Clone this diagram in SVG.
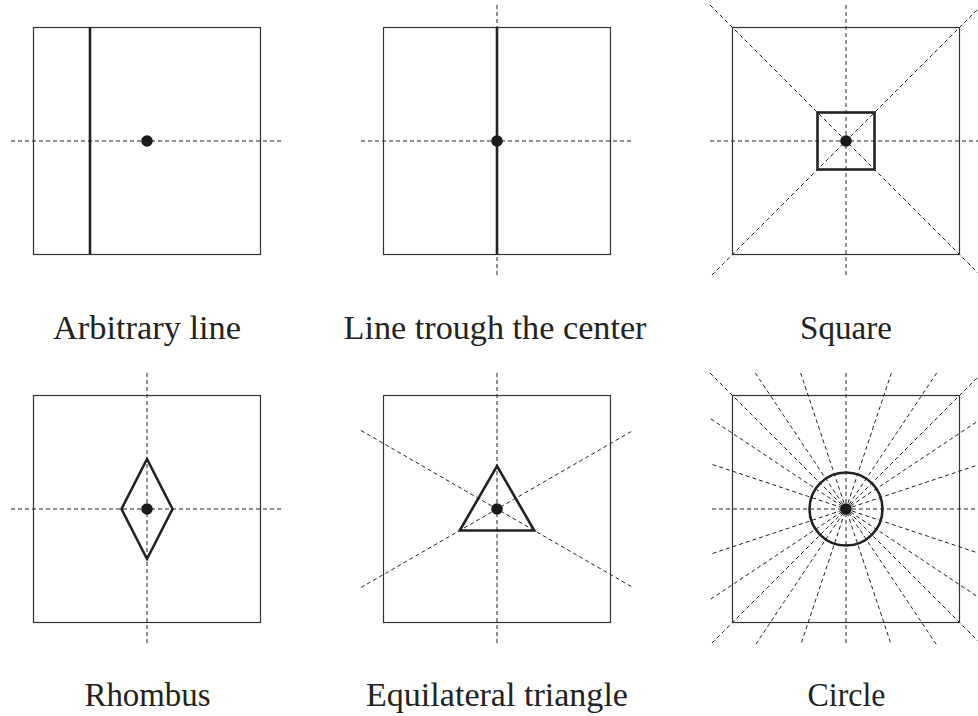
<svg xmlns="http://www.w3.org/2000/svg" width="978" height="716" viewBox="0 0 978 716">
<style>
.bg{fill:#fff}
.frame{fill:none;stroke:#333;stroke-width:1.2}
.dash{fill:none;stroke:#222;stroke-width:1;stroke-dasharray:4 3}
.thick{fill:none;stroke:#222;stroke-width:2.6;stroke-linejoin:miter}
.dot{fill:#1a1a1a}
.lbl{font-size:33px;fill:#222;text-anchor:middle}
</style>
<rect class="bg" x="0" y="0" width="978" height="716"/>
<g id="connectors">
  <line class="dash" x1="11" y1="141" x2="283" y2="141"/>
  <line class="dash" x1="361" y1="141" x2="633" y2="141"/>
  <line class="dash" x1="497" y1="5" x2="497" y2="277"/>
  <line class="dash" x1="710" y1="141" x2="982" y2="141"/>
  <line class="dash" x1="846" y1="5" x2="846" y2="277"/>
  <line class="dash" x1="710" y1="5" x2="982" y2="277"/>
  <line class="dash" x1="982" y1="5" x2="710" y2="277"/>
  <line class="dash" x1="11" y1="509" x2="283" y2="509"/>
  <line class="dash" x1="147" y1="373" x2="147" y2="645"/>
  <line class="dash" x1="497" y1="373" x2="497" y2="645"/>
  <line class="dash" x1="361" y1="430.5" x2="633" y2="587.5"/>
  <line class="dash" x1="361" y1="587.5" x2="633" y2="430.5"/>
  <line class="dash" x1="710" y1="373" x2="982" y2="645"/>
  <line class="dash" x1="755.33" y1="373" x2="936.67" y2="645"/>
  <line class="dash" x1="800.67" y1="373" x2="891.33" y2="645"/>
  <line class="dash" x1="846" y1="373" x2="846" y2="645"/>
  <line class="dash" x1="891.33" y1="373" x2="800.67" y2="645"/>
  <line class="dash" x1="936.67" y1="373" x2="755.33" y2="645"/>
  <line class="dash" x1="982" y1="373" x2="710" y2="645"/>
  <line class="dash" x1="982" y1="418.33" x2="710" y2="599.67"/>
  <line class="dash" x1="982" y1="463.67" x2="710" y2="554.33"/>
  <line class="dash" x1="982" y1="509" x2="710" y2="509"/>
  <line class="dash" x1="982" y1="554.33" x2="710" y2="463.67"/>
  <line class="dash" x1="982" y1="599.67" x2="710" y2="418.33"/>
</g>
<g id="arbitrary-line">
  <rect class="frame" x="33.5" y="27.5" width="227" height="227"/>
  <line class="thick" x1="90" y1="27.5" x2="90" y2="254.5"/>
  <circle class="dot" cx="147" cy="141" r="5.8"/>
  <text class="lbl" font-family="Liberation Serif, Times New Roman, serif" x="147" y="339" textLength="188" lengthAdjust="spacingAndGlyphs">Arbitrary line</text>
</g>
<g id="line-center">
  <rect class="frame" x="383.5" y="27.5" width="227" height="227"/>
  <line class="thick" x1="497" y1="27.5" x2="497" y2="254.5"/>
  <circle class="dot" cx="497" cy="141" r="5.8"/>
  <text class="lbl" font-family="Liberation Serif, Times New Roman, serif" x="495" y="339" textLength="303" lengthAdjust="spacingAndGlyphs">Line trough the center</text>
</g>
<g id="square">
  <rect class="frame" x="732.5" y="27.5" width="227" height="227"/>
  <rect class="thick" x="817.5" y="112.5" width="57" height="57"/>
  <circle class="dot" cx="846" cy="141" r="5.8"/>
  <text class="lbl" font-family="Liberation Serif, Times New Roman, serif" x="846" y="339" textLength="92" lengthAdjust="spacingAndGlyphs">Square</text>
</g>
<g id="rhombus">
  <rect class="frame" x="33.5" y="395.5" width="227" height="227"/>
  <polygon class="thick" points="147,459 172.5,509 147,559 121.5,509"/>
  <circle class="dot" cx="147" cy="509" r="5.8"/>
  <text class="lbl" font-family="Liberation Serif, Times New Roman, serif" x="147.5" y="706" textLength="126" lengthAdjust="spacingAndGlyphs">Rhombus</text>
</g>
<g id="triangle">
  <rect class="frame" x="383.5" y="395.5" width="227" height="227"/>
  <polygon class="thick" points="497,466 534.24,530.5 459.76,530.5"/>
  <circle class="dot" cx="497" cy="509" r="5.8"/>
  <text class="lbl" font-family="Liberation Serif, Times New Roman, serif" x="497" y="706" textLength="262" lengthAdjust="spacingAndGlyphs">Equilateral triangle</text>
</g>
<g id="circle">
  <rect class="frame" x="732.5" y="395.5" width="227" height="227"/>
  <circle class="thick" cx="846" cy="509" r="36.5"/>
  <circle class="dot" cx="846" cy="509" r="5.8"/>
  <text class="lbl" font-family="Liberation Serif, Times New Roman, serif" x="846.5" y="706" textLength="78" lengthAdjust="spacingAndGlyphs">Circle</text>
</g>
</svg>
